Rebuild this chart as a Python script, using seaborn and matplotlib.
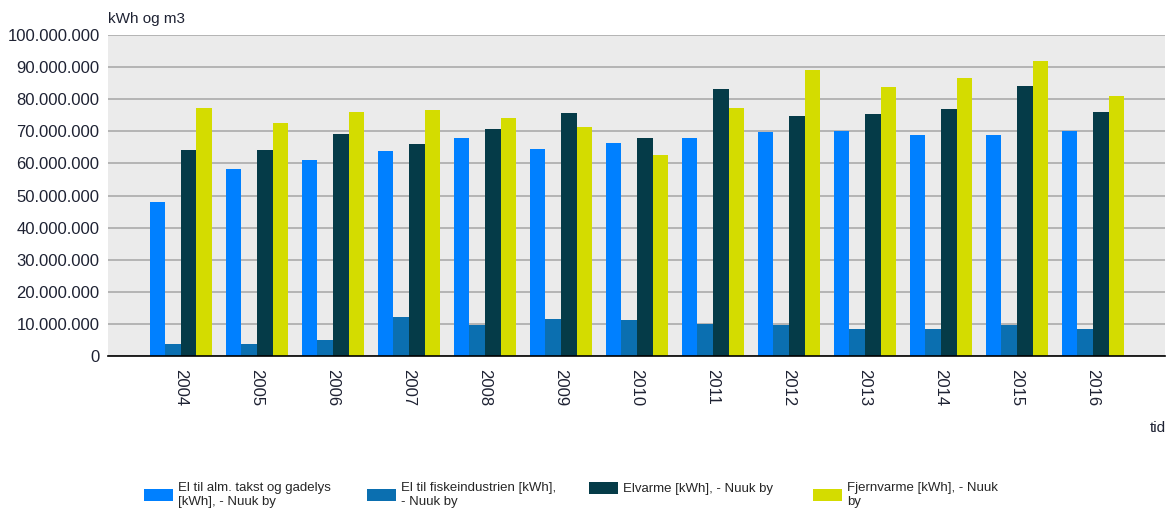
import pandas as pd
import numpy as np
import seaborn as sns
from matplotlib import pyplot as plt
from matplotlib.ticker import FuncFormatter, MultipleLocator

years = ['2004', '2005', '2006', '2007', '2008', '2009', '2010',
         '2011', '2012', '2013', '2014', '2015', '2016']

series = ['El til alm. takst og gadelys\n[kWh], - Nuuk by',
          'El til fiskeindustrien [kWh],\n- Nuuk by',
          'Elvarme [kWh], - Nuuk by',
          'Fjernvarme [kWh], - Nuuk\nby']

# values in kWh / m3
alm_takst = [48.1e6, 58.4e6, 61.0e6, 63.9e6, 68.0e6, 64.4e6, 66.4e6,
             68.0e6, 69.8e6, 70.1e6, 68.9e6, 68.9e6, 70.1e6]
fiskeind = [3.9e6, 3.9e6, 4.9e6, 12.2e6, 9.8e6, 11.6e6, 11.3e6,
            10.1e6, 9.8e6, 8.4e6, 8.4e6, 9.8e6, 8.4e6]
elvarme = [64.3e6, 64.3e6, 69.3e6, 66.0e6, 70.7e6, 75.6e6, 68.0e6,
           83.1e6, 74.7e6, 75.5e6, 76.8e6, 84.2e6, 76.0e6]
fjernvarme = [77.3e6, 72.6e6, 76.0e6, 76.6e6, 74.1e6, 71.3e6, 62.5e6,
              77.2e6, 89.2e6, 83.8e6, 86.7e6, 91.8e6, 80.9e6]

colors = ['#0080ff', '#0b6fb0', '#053b48', '#d4dc00']

df = pd.DataFrame({'tid': years * 4,
                   'serie': np.repeat(series, len(years)),
                   'value': alm_takst + fiskeind + elvarme + fjernvarme})

sns.set_style("white")
plt.rcParams['font.family'] = ['Liberation Sans', 'DejaVu Sans']

fig = plt.figure(figsize=(11.67, 5.15), dpi=100)
ax = fig.add_axes([0.0925, 0.3087, 0.906, 0.6233])
ax.set_facecolor('#ebebeb')

sns.barplot(data=df, x='tid', y='value', hue='serie', order=years,
            hue_order=series, palette=colors, width=0.82, saturation=1,
            linewidth=0, ax=ax, legend=True)

ax.set_ylim(0, 100e6)
ax.set_xlim(-0.96, 12.95)
ax.yaxis.set_major_locator(MultipleLocator(10e6))
ax.yaxis.set_major_formatter(FuncFormatter(lambda v, p: f"{int(round(v)):,}".replace(',', '.')))
ax.grid(axis='y', color='#b4b4b4', linewidth=1.4)
ax.set_axisbelow(True)
for s in ['top', 'right', 'left']:
    ax.spines[s].set_visible(False)
ax.spines['bottom'].set_color('black')
ax.spines['bottom'].set_linewidth(1.2)
ax.tick_params(axis='both', length=0, labelsize=12, labelcolor='#1e2233')
ax.tick_params(axis='y', pad=6)
ax.tick_params(axis='x', pad=9)
for lab in ax.get_xticklabels():
    lab.set_rotation(-90)
ax.set_xlabel('')
ax.set_ylabel('')

fig.text(108 / 1167, 1 - 19 / 515, 'kWh og m3', fontsize=11, color='#1e2233',
         ha='left', va='center')
fig.text(1166 / 1167, 1 - 428 / 515, 'tid', fontsize=11, color='#1e2233',
         ha='right', va='center')

handles, labels = ax.get_legend_handles_labels()
ax.legend_.remove()
leg_x = [144, 367, 589, 813]
for h, l, x in zip(handles, labels, leg_x):
    fig.legend([h], [l], loc='upper left', bbox_to_anchor=(x / 1167, 1 - 482 / 515),
               frameon=False, handlelength=2.2, handleheight=1.0, handletextpad=0.4,
               borderaxespad=0, borderpad=0,
               prop={'family': ['Liberation Sans Narrow', 'Liberation Sans'], 'size': 9.5},
               labelspacing=0)

fig.savefig('out.png', dpi=100)
